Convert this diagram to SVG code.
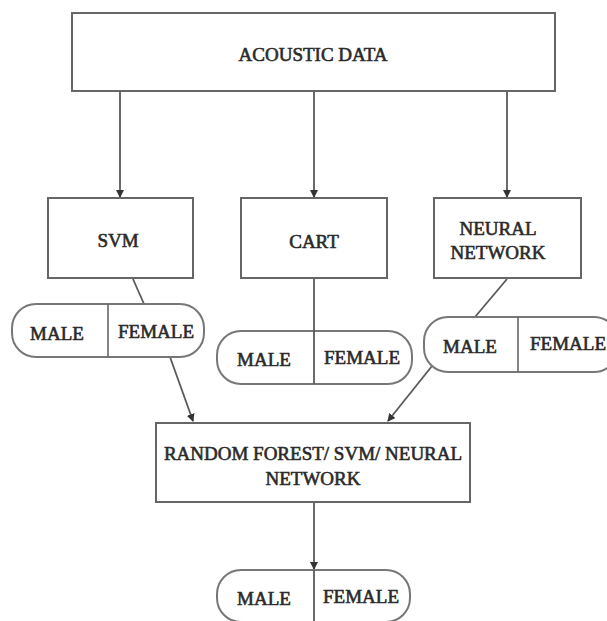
<svg xmlns="http://www.w3.org/2000/svg" width="607" height="621" viewBox="0 0 607 621">
<style>
.box{fill:#fff;stroke:#666;stroke-width:2}
.pill{fill:#fff;stroke:#777;stroke-width:2}
.div{stroke:#666;stroke-width:1.6}
.t{font-family:"Liberation Serif","Times New Roman",serif;font-size:19px;fill:#2a2a2a;stroke:#2a2a2a;stroke-width:0.6;text-anchor:middle;dominant-baseline:central}
.c{stroke:#5a5a5a;stroke-width:1.8;fill:none}
.ca{stroke:#5a5a5a;stroke-width:1.8;fill:none;marker-end:url(#ah)}
</style>
<defs>
<marker id="ah" markerWidth="8" markerHeight="8" refX="7" refY="4" orient="auto" markerUnits="userSpaceOnUse">
<path d="M0,0 L8,4 L0,8 Z" fill="#333"/>
</marker>
</defs>
<rect width="607" height="621" fill="#fff"/>
<g id="connectors">
<line class="ca" x1="120" y1="91" x2="120" y2="197"/>
<line class="ca" x1="314" y1="91" x2="314" y2="197"/>
<line class="ca" x1="507" y1="91" x2="507" y2="197"/>
<line class="c" x1="133" y1="279" x2="144" y2="304"/>
<line class="ca" x1="170" y1="357" x2="193" y2="421"/>
<line class="c" x1="507" y1="279" x2="475" y2="317"/>
<line class="ca" x1="432" y1="366" x2="388" y2="421"/>
<line class="ca" x1="314" y1="503" x2="314" y2="569"/>
</g>
<g id="acoustic">
<rect class="box" x="72" y="13" width="483" height="78"/>
<text class="t" x="313" y="54">ACOUSTIC DATA</text>
</g>
<g id="svm">
<rect class="box" x="48" y="198" width="145" height="80"/>
<text class="t" x="118" y="240">SVM</text>
</g>
<g id="cart">
<rect class="box" x="241" y="198" width="146" height="80"/>
<text class="t" x="314" y="241">CART</text>
</g>
<g id="nn">
<rect class="box" x="434" y="198" width="147" height="80"/>
<text class="t" x="498" y="228">NEURAL</text>
<text class="t" x="498" y="252">NETWORK</text>
</g>
<g id="svm-out">
<rect class="pill" x="12" y="304" width="192" height="53" rx="24"/>
<line class="div" x1="108" y1="304" x2="108" y2="357"/>
<text class="t" x="57" y="333">MALE</text>
<text class="t" x="156" y="331">FEMALE</text>
</g>
<g id="cart-out">
<rect class="pill" x="217" y="331" width="195" height="53" rx="24"/>
<line class="c" x1="314" y1="279" x2="314" y2="384"/>
<text class="t" x="264" y="359">MALE</text>
<text class="t" x="362" y="357">FEMALE</text>
</g>
<g id="nn-out">
<rect class="pill" x="424" y="317" width="194" height="55" rx="24"/>
<line class="div" x1="518" y1="317" x2="518" y2="372"/>
<text class="t" x="470" y="346">MALE</text>
<text class="t" x="568" y="343">FEMALE</text>
</g>
<g id="rf">
<rect class="box" x="156" y="423" width="314" height="79"/>
<text class="t" x="313" y="453">RANDOM FOREST/ SVM/ NEURAL</text>
<text class="t" x="313" y="478">NETWORK</text>
</g>
<g id="final-out">
<rect class="pill" x="217" y="570" width="193" height="52" rx="24"/>
<line class="c" x1="314" y1="570" x2="314" y2="621"/>
<text class="t" x="264" y="598">MALE</text>
<text class="t" x="361" y="596">FEMALE</text>
</g>
</svg>
